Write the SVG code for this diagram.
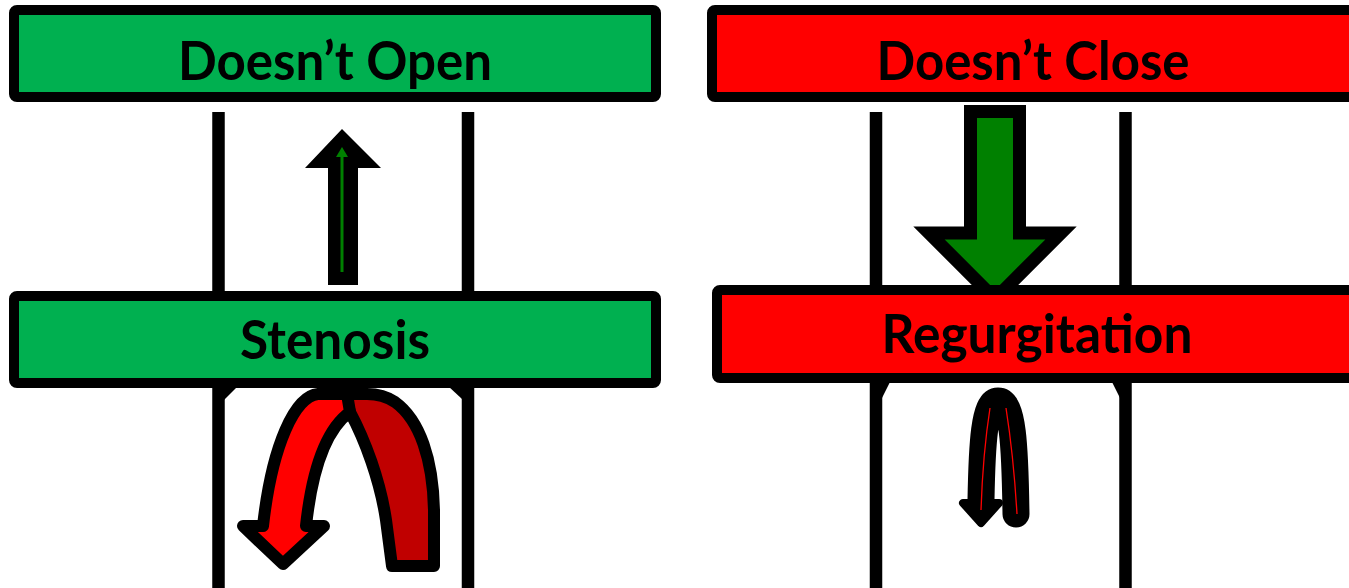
<svg xmlns="http://www.w3.org/2000/svg" width="1349" height="588" viewBox="0 0 1349 588">
<style>
.box{stroke:#000;stroke-width:10;stroke-linejoin:round}
.green{fill:#00B050}
.red{fill:#FF0000}
.lbl{font-family:Lato,"Liberation Sans",sans-serif;font-weight:bold;font-size:54px;fill:#000;text-anchor:middle}
.wall{stroke:#000;stroke-width:12.5;fill:none}
</style>
<rect width="1349" height="588" fill="#fff"/>
<g id="walls">
<line class="wall" x1="218.5" y1="112" x2="218.5" y2="588"/>
<line class="wall" x1="468" y1="112" x2="468" y2="588"/>
<line class="wall" x1="876" y1="112" x2="876" y2="588"/>
<line class="wall" x1="1125.5" y1="112" x2="1125.5" y2="588"/>
<polygon points="224,386 238,386 224,400" fill="#000"/>
<polygon points="462,386 448,386 462,399" fill="#000"/>
<polygon points="882,380 891,380 882,398" fill="#000"/>
<polygon points="1120,380 1111,380 1120,398" fill="#000"/>
</g>
<g id="connectors">
<g id="up-arrow">
<polygon points="342,129 381,168 358,168 358,285 328,285 328,168 305,168" fill="#000"/>
<line x1="342" y1="272" x2="342" y2="156" stroke="#008000" stroke-width="3"/>
<polygon points="342,147 336,157 348,157" fill="#008000"/>
</g>
<g id="down-arrow">
<path d="M970.5 111.5 L1019.5 111.5 L1019.5 233 L1061 233 L995 299 L929 233 L970.5 233 Z" fill="#008000" stroke="#000" stroke-width="13" stroke-linejoin="miter"/>
</g>
<g id="u-turn-stenosis" stroke="#000" stroke-width="12" stroke-linejoin="round">
<path d="M392 566 L434 566 L434 510 C433 460 420 420 395 402 C386 396 378 394 367 394 L345 394 L350 412 C365 440 380 480 386 520 L392 566 Z" fill="#C00000"/>
<path d="M347 394 L318 394 C295 396 272 445 263 526 L243 526 L283 564 L324 526 L306 526 C312 470 325 430 350 412 Z" fill="#FF0000"/>
</g>
<g id="u-turn-regurgitation">
<path d="M1016 514 C1015 445 1013 401 998 401 C984 401 982 445 981 500" fill="none" stroke="#000" stroke-width="27" stroke-linecap="round" stroke-linejoin="round"/>
<polygon points="963,503 999,503 981,523" fill="#000" stroke="#000" stroke-width="8" stroke-linejoin="round"/>
<path d="M990 408 C985 440 982 480 981 510" fill="none" stroke="#FF0000" stroke-width="1.3"/>
<path d="M1006 408 C1011 440 1015 480 1017 514" fill="none" stroke="#FF0000" stroke-width="1.3"/>
</g>
</g>
<g id="node-doesnt-open">
<rect class="box green" x="14" y="10" width="642" height="87" rx="3"/>
<text class="lbl" x="335" y="80" textLength="314" lengthAdjust="spacingAndGlyphs">Doesn’t Open</text>
</g>
<g id="node-doesnt-close">
<rect class="box red" x="712" y="10" width="660" height="87" rx="3"/>
<text class="lbl" x="1033" y="80" textLength="313" lengthAdjust="spacingAndGlyphs">Doesn’t Close</text>
</g>
<g id="node-stenosis">
<rect class="box green" x="14" y="296" width="642" height="87" rx="3"/>
<text class="lbl" x="335" y="359" textLength="190" lengthAdjust="spacingAndGlyphs">Stenosis</text>
</g>
<g id="node-regurgitation">
<rect class="box red" x="717" y="290" width="660" height="88" rx="3"/>
<text class="lbl" x="1037" y="353" textLength="311" lengthAdjust="spacingAndGlyphs">Regurgitation</text>
</g>
</svg>
